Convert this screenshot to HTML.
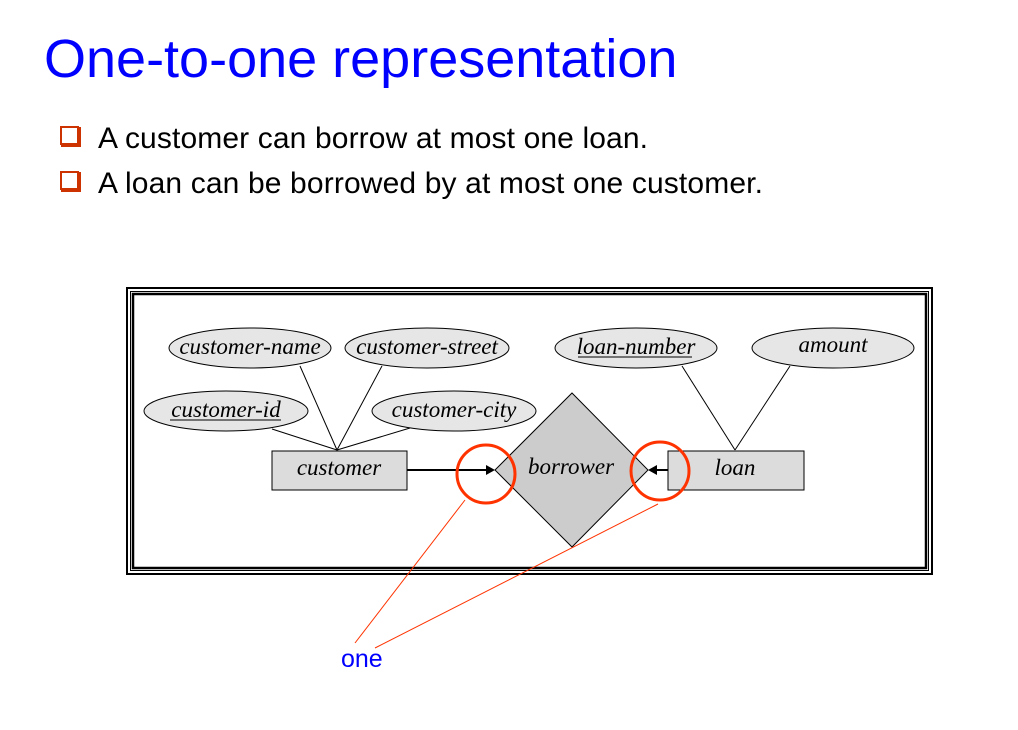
<!DOCTYPE html>
<html><head><meta charset="utf-8"><style>
html,body{margin:0;padding:0;background:#fff;}
svg{display:block;}
</style></head><body>
<svg width="1018" height="730" xmlns="http://www.w3.org/2000/svg">
<text x="44" y="77" font-family="Liberation Sans, sans-serif" font-size="54" fill="#0000ff">One-to-one representation</text>
<g fill="#fff" stroke="#cc3300">
<rect x="61" y="127" width="17" height="17" stroke-width="2"/>
<rect x="61" y="172" width="17" height="17" stroke-width="2"/>
</g>
<path d="M61,145 L79,145 L79,127" stroke="#cc3300" stroke-width="4" fill="none"/>
<path d="M61,190 L79,190 L79,172" stroke="#cc3300" stroke-width="4" fill="none"/>
<g font-family="Liberation Sans, sans-serif" font-size="30" fill="#000">
<text x="98" y="148" textLength="550">A customer can borrow at most one loan.</text>
<text x="98" y="193" textLength="665">A loan can be borrowed by at most one customer.</text>
</g>
<g fill="none" stroke="#000">
<rect x="127" y="288" width="805" height="286" stroke-width="2"/>
<rect x="130.5" y="291.5" width="798" height="279" stroke-width="1"/>
<rect x="133" y="294" width="793" height="274" stroke-width="2.5"/>
</g>
<g stroke="#000" stroke-width="1" fill="none">
<line x1="337" y1="450" x2="300" y2="366"/>
<line x1="337" y1="450" x2="382" y2="366"/>
<line x1="337" y1="450" x2="272" y2="429"/>
<line x1="337" y1="450" x2="410" y2="428"/>
<line x1="735" y1="450" x2="682" y2="366"/>
<line x1="735" y1="450" x2="790" y2="366"/>
</g>
<g fill="#e6e6e6" stroke="#000" stroke-width="1">
<ellipse cx="250" cy="348" rx="81" ry="20"/>
<ellipse cx="427" cy="348" rx="82" ry="20"/>
<ellipse cx="226" cy="411" rx="82" ry="20"/>
<ellipse cx="454" cy="411" rx="82" ry="20"/>
<ellipse cx="636" cy="348" rx="81" ry="20"/>
<ellipse cx="833" cy="348" rx="81" ry="20"/>
</g>
<rect x="272" y="451" width="135" height="39" fill="#dcdcdc" stroke="#000"/>
<rect x="668" y="451" width="136" height="39" fill="#dcdcdc" stroke="#000"/>
<polygon points="572,393 648,470 572,547 495,470" fill="#cccccc" stroke="#000"/>
<line x1="407" y1="470" x2="488" y2="470" stroke="#000" stroke-width="2"/>
<polygon points="495,470 486,465 486,475" fill="#000"/>
<line x1="668" y1="470" x2="655" y2="470" stroke="#000" stroke-width="2"/>
<polygon points="648,470 657,465 657,475" fill="#000"/>
<g font-family="Liberation Serif, serif" font-style="italic" font-size="23" fill="#000" text-anchor="middle">
<text x="250" y="354">customer-name</text>
<text x="427" y="354">customer-street</text>
<text x="226" y="417">customer-id</text>
<text x="454" y="417">customer-city</text>
<text x="636" y="354">loan-number</text>
<text x="833" y="352">amount</text>
<text x="339" y="475">customer</text>
<text x="571" y="474">borrower</text>
<text x="735" y="475">loan</text>
</g>
<line x1="170" y1="420" x2="281" y2="420" stroke="#000"/>
<line x1="578" y1="357" x2="692" y2="357" stroke="#000"/>
<g stroke="#ff3300" fill="none">
<circle cx="486" cy="474" r="29" stroke-width="3"/>
<circle cx="660" cy="471" r="29" stroke-width="3"/>
<line x1="465" y1="500" x2="355" y2="643" stroke-width="1"/>
<line x1="658" y1="504" x2="375" y2="648" stroke-width="1"/>
</g>
<text x="341" y="667" font-family="Liberation Sans, sans-serif" font-size="25" fill="#0000ff">one</text>
</svg>
</body></html>
